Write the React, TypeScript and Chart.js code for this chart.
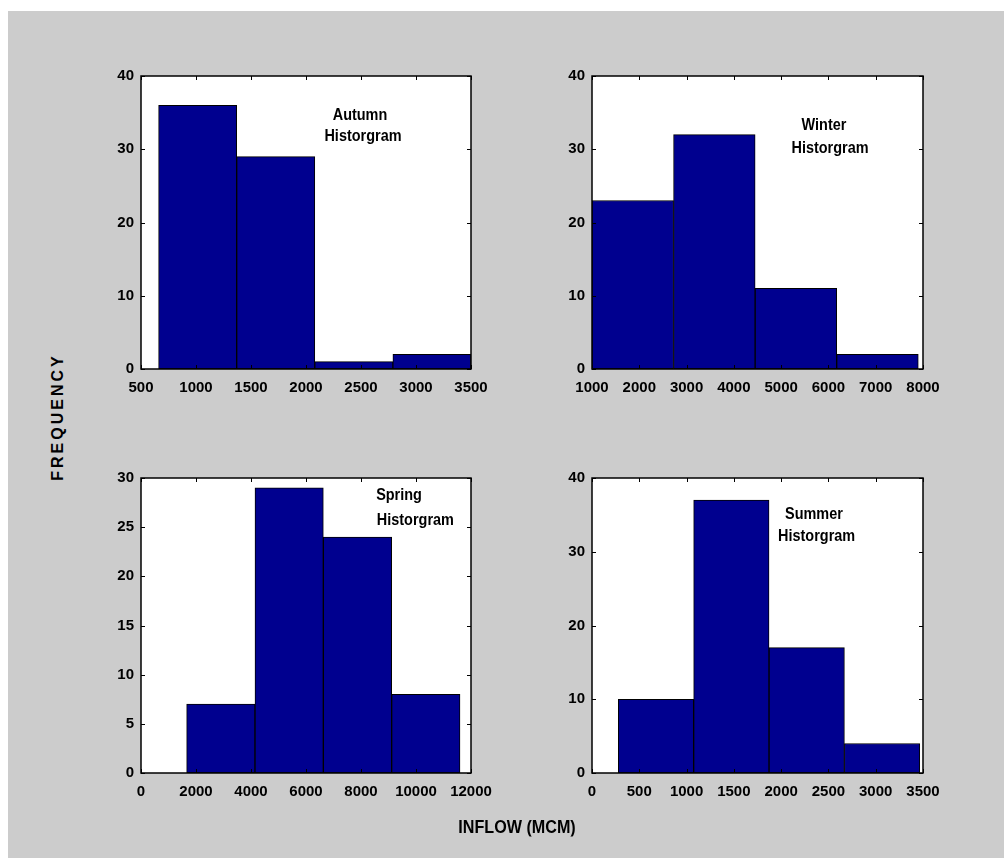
import React, { useEffect, useRef } from 'react';
import { Chart, registerables } from 'chart.js';

Chart.register(...registerables);

// ---------- data ----------
const autumnEdges = [660, 1370, 2080, 2790, 3500];
const autumnCounts = [36, 29, 1, 2];
const autumnXTicks = [500, 3500, 500]; // min, max, step
const autumnYTicks = [0, 40, 10];
const autumnNotes = ['Autumn', 'Historgram'];
const autumnNoteX = [2491, 2518];
const autumnNoteY = [34.0, 31.1];

const winterEdges = [1000, 2725, 4450, 6175, 7900];
const winterCounts = [23, 32, 11, 2];
const winterXTicks = [1000, 8000, 1000];
const winterYTicks = [0, 40, 10];
const winterNotes = ['Winter', 'Historgram'];
const winterNoteX = [5906, 6033];
const winterNoteY = [32.6, 29.5];

const springEdges = [1660, 4145, 6630, 9115, 11600];
const springCounts = [7, 29, 24, 8];
const springXTicks = [0, 12000, 2000];
const springYTicks = [0, 30, 5];
const springNotes = ['Spring', 'Historgram'];
const springNoteX = [9382, 9977];
const springNoteY = [27.8, 25.25];

const summerEdges = [278, 1075, 1872, 2669, 3466];
const summerCounts = [10, 37, 17, 4];
const summerXTicks = [0, 3500, 500];
const summerYTicks = [0, 40, 10];
const summerNotes = ['Summer', 'Historgram'];
const summerNoteX = [2347, 2375];
const summerNoteY = [34.5, 31.5];

const yAxisTitle = 'FREQUENCY';
const xAxisTitle = 'INFLOW (MCM)';

// ---------- layout (page pixels) ----------
const plotRects: [number, number, number, number][] = [
  [141, 76, 471, 369],
  [592, 76, 923, 369],
  [141, 478, 471, 773],
  [592, 478, 923, 773],
];
const ML = 61, MT = 36, MR = 39, MB = 51, XH = 30;

const SANS = "'Liberation Sans', Arial, sans-serif";
const BAR_COLOR = '#00008F';

type Panel = {
  edges: number[];
  counts: number[];
  xt: number[];
  yt: number[];
  notes: string[];
  noteX: number[];
  noteY: number[];
};

const panels: Panel[] = [
  { edges: autumnEdges, counts: autumnCounts, xt: autumnXTicks, yt: autumnYTicks, notes: autumnNotes, noteX: autumnNoteX, noteY: autumnNoteY },
  { edges: winterEdges, counts: winterCounts, xt: winterXTicks, yt: winterYTicks, notes: winterNotes, noteX: winterNoteX, noteY: winterNoteY },
  { edges: springEdges, counts: springCounts, xt: springXTicks, yt: springYTicks, notes: springNotes, noteX: springNoteX, noteY: springNoteY },
  { edges: summerEdges, counts: summerCounts, xt: summerXTicks, yt: summerYTicks, notes: summerNotes, noteX: summerNoteX, noteY: summerNoteY },
];

function makeFramePlugin(p: Panel) {
  return {
    id: 'frame',
    beforeDraw(chart: any) {
      const { ctx, chartArea: a } = chart;
      ctx.save();
      ctx.fillStyle = '#ffffff';
      ctx.fillRect(a.left, a.top, a.right - a.left, a.bottom - a.top);
      ctx.restore();
    },
    afterDraw(chart: any) {
      const { ctx, chartArea: a, scales } = chart;
      const tl = 4;
      ctx.save();
      ctx.strokeStyle = '#000';
      ctx.lineWidth = 1;
      ctx.beginPath();
      scales.x.ticks.forEach((t: any) => {
        const px = Math.round(scales.x.getPixelForValue(t.value)) + 0.5;
        ctx.moveTo(px, a.top);
        ctx.lineTo(px, a.top + tl);
        ctx.moveTo(px, a.bottom);
        ctx.lineTo(px, a.bottom - tl);
      });
      scales.y.ticks.forEach((t: any) => {
        const py = Math.round(scales.y.getPixelForValue(t.value)) + 0.5;
        ctx.moveTo(a.left, py);
        ctx.lineTo(a.left + tl, py);
        ctx.moveTo(a.right, py);
        ctx.lineTo(a.right - tl, py);
      });
      ctx.stroke();
      ctx.lineWidth = 1.5;
      ctx.strokeRect(a.left, a.top, a.right - a.left, a.bottom - a.top);
      ctx.fillStyle = '#000';
      ctx.font = `bold 17px ${SANS}`;
      ctx.textAlign = 'center';
      ctx.textBaseline = 'alphabetic';
      p.notes.forEach((n, i) => {
        ctx.save();
        ctx.translate(scales.x.getPixelForValue(p.noteX[i]), scales.y.getPixelForValue(p.noteY[i]));
        ctx.scale(0.85, 1);
        ctx.fillText(n, 0, 0);
        ctx.restore();
      });
      ctx.restore();
    },
  };
}

function HistPanel({ p, rect }: { p: Panel; rect: [number, number, number, number] }) {
  const ref = useRef<HTMLCanvasElement | null>(null);
  const w = rect[2] - rect[0] + ML + MR;
  const h = rect[3] - rect[1] + MT + MB;
  useEffect(() => {
    if (!ref.current) return;
    const centers = p.counts.map((_, i) => (p.edges[i] + p.edges[i + 1]) / 2);
    const tickFont = { family: SANS, size: 15, weight: 'bold' as const };
    const chart = new Chart(ref.current, {
      type: 'bar',
      data: {
        datasets: [
          {
            data: centers.map((c, i) => ({ x: c, y: p.counts[i] })),
            backgroundColor: BAR_COLOR,
            borderColor: '#000',
            borderWidth: 1,
            borderSkipped: false,
            barThickness: 'flex',
            categoryPercentage: 1,
            barPercentage: 1,
          } as any,
        ],
      },
      options: {
        responsive: false,
        animation: false,
        layout: { padding: { left: 0, top: MT, right: MR, bottom: MB - XH } },
        plugins: { legend: { display: false }, tooltip: { enabled: false }, title: { display: false } },
        scales: {
          x: {
            type: 'linear',
            offset: false,
            min: p.xt[0],
            max: p.xt[1],
            ticks: {
              stepSize: p.xt[2],
              autoSkip: false,
              maxRotation: 0,
              padding: 10,
              color: '#000',
              font: tickFont,
              callback: (v: any) => String(v),
            },
            grid: { display: false, drawTicks: false },
            border: { display: false },
            afterFit: (s: any) => {
              s.height = XH;
            },
          },
          y: {
            type: 'linear',
            min: p.yt[0],
            max: p.yt[1],
            ticks: {
              stepSize: p.yt[2],
              padding: 7,
              color: '#000',
              font: tickFont,
              callback: (v: any) => String(v),
            },
            grid: { display: false, drawTicks: false },
            border: { display: false },
            afterFit: (s: any) => {
              s.width = ML;
            },
          },
        },
      } as any,
      plugins: [makeFramePlugin(p)],
    });
    return () => chart.destroy();
  }, [p]);
  return (
    <canvas
      ref={ref}
      width={w}
      height={h}
      style={{ position: 'absolute', left: rect[0] - ML, top: rect[1] - MT, width: w, height: h }}
    />
  );
}

export default function App() {
  useEffect(() => {
    document.body.style.margin = '0';
  }, []);
  return (
    <div style={{ position: 'absolute', left: 0, top: 0, width: 1004, height: 859, overflow: 'hidden', background: '#fff' }}>
      <div style={{ position: 'absolute', left: 8, top: 11, width: 996, height: 847, background: '#cccccc' }} />
      {panels.map((p, i) => (
        <HistPanel key={i} p={p} rect={plotRects[i]} />
      ))}
      <div
        style={{
          position: 'absolute',
          left: 58,
          top: 417,
          transform: 'translate(-50%, -50%) rotate(-90deg)',
          whiteSpace: 'nowrap',
          fontFamily: SANS,
          fontWeight: 'bold',
          fontSize: 16,
          letterSpacing: 3,
          lineHeight: 1,
          color: '#000',
        }}
      >
        {yAxisTitle}
      </div>
      <div
        style={{
          position: 'absolute',
          left: 517,
          top: 826,
          transform: 'translate(-50%, -50%) scaleX(0.85)',
          whiteSpace: 'nowrap',
          fontFamily: SANS,
          fontWeight: 'bold',
          fontSize: 19,
          lineHeight: 1,
          color: '#000',
        }}
      >
        {xAxisTitle}
      </div>
    </div>
  );
}
